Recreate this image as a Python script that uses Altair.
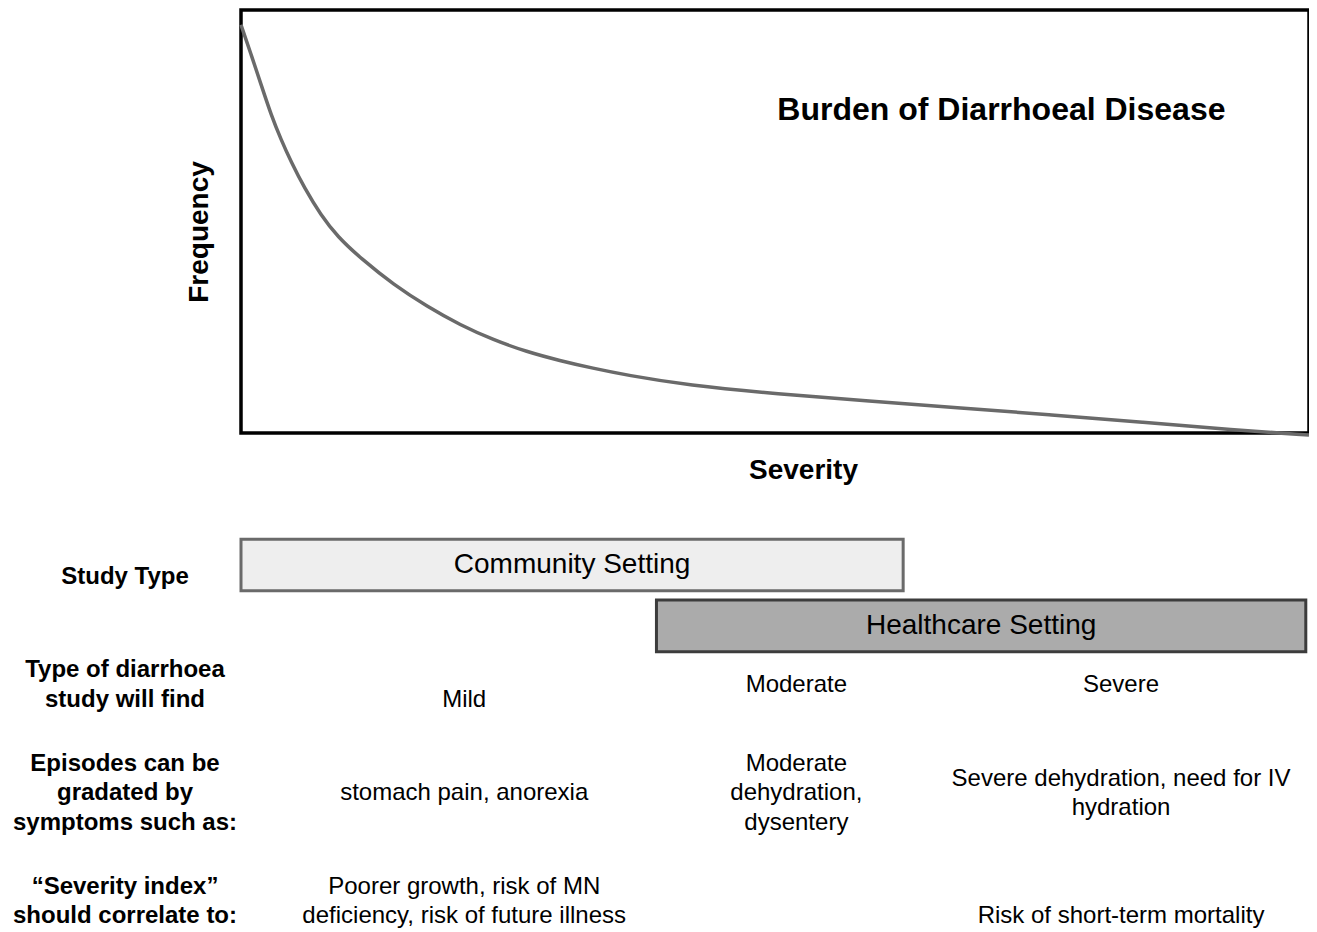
import altair as alt
import pandas as pd

FONT = "Liberation Sans"

# ---- burden curve (severity 0-100, frequency 0-100) ----
severity = [0, 0.96, 1.89, 2.82, 3.76, 4.69, 5.94, 7.48, 9.04, 11.21, 14.32, 17.43,
            20.53, 23.64, 26.75, 29.85, 32.96, 36.07, 41.8, 50.3, 58.8, 67.4, 75.9,
            84.4, 92.9, 100]
frequency = [96.5, 89.4, 82.3, 75.2, 69.3, 64.1, 57.9, 51.5, 46.4, 41.3, 35.0, 29.9,
             25.5, 22.0, 19.2, 17.1, 15.3, 13.7, 11.3, 9.2, 7.6, 5.9, 4.3,
             2.6, 0.7, -0.5]

# ---- study type bands along the severity axis ----
study_types = ["Community Setting", "Healthcare Setting"]
study_start = [0.0, 38.9]
study_end = [62.0, 99.7]
study_lane = [0, 1]
study_fill = ["#eeeeee", "#ababab"]
study_stroke = ["#6a6a6a", "#3c3c3c"]

# ---- table rows ----
row_labels = ["Study Type",
              "Type of diarrhoea\nstudy will find",
              "Episodes can be\ngradated by\nsymptoms such as:",
              "\u201cSeverity index\u201d\nshould correlate to:"]

columns = ["Mild", "Moderate", "Severe"]
column_severity = [20.9, 52.0, 82.4]

cell_row = [1, 1, 1, 2, 2, 2, 3, 3]
cell_col = ["Mild", "Moderate", "Severe", "Mild", "Moderate", "Severe", "Mild", "Severe"]
cell_text = ["\nMild", "Moderate", "Severe",
             "stomach pain, anorexia",
             "Moderate\ndehydration,\ndysentery",
             "Severe dehydration, need for IV\nhydration",
             "Poorer growth, risk of MN\ndeficiency, risk of future illness",
             "\nRisk of short-term mortality"]

title_text = ["Burden of Diarrhoeal Disease"]

# layout constants (in axis units) for the table below the plot
ROW_TOP = -34.0
ROW_STEP = 25.6
LINE_U = 6.974          # one text line (29.5 px) in frequency units
LANE_TOP = -31.2
LANE_STEP = 14.4
LANE_HALF = 6.1
LABEL_X = -10.86

curve_df = pd.DataFrame({"severity": severity, "frequency": frequency})
study_df = pd.DataFrame({"study": study_types, "start": study_start, "end": study_end,
                         "lane": study_lane, "fill": study_fill, "stroke": study_stroke})
rows_df = pd.DataFrame({"label": row_labels, "row": list(range(len(row_labels)))})
col_map = dict(zip(columns, column_severity))
cells_df = pd.DataFrame({"text": cell_text, "row": cell_row,
                         "col": cell_col,
                         "severity": [col_map[c] for c in cell_col]})
title_df = pd.DataFrame({"text": title_text, "severity": [71.2], "frequency": [76.4]})

xscale = alt.Scale(domain=[0, 100], nice=False, zero=False)
yscale = alt.Scale(domain=[0, 100], nice=False, zero=False)
x_axis = alt.Axis(title="Severity", labels=False, ticks=False, domain=False, grid=False,
                  titleFontSize=28, titleFontWeight="bold", titleColor="black",
                  titleFont=FONT, titlePadding=23, titleX=562)
y_axis = alt.Axis(title="Frequency", labels=False, ticks=False, domain=False, grid=False,
                  titleFontSize=28, titleFontWeight="bold", titleColor="black",
                  titleFont=FONT, titlePadding=28, titleY=221.5)


def X(field):
    return alt.X(field, type="quantitative", scale=xscale, axis=x_axis)


def Y(field):
    return alt.Y(field, type="quantitative", scale=yscale, axis=y_axis)


ycenter = (f"{ROW_TOP} - datum.row * {ROW_STEP} + "
           f"(length(split(datum.TXT, '\\n')) - 1) * {LINE_U} / 2")

curve = alt.Chart(curve_df).mark_line(color="#6a6a6a", strokeWidth=3.5,
                                      interpolate="basis").encode(
    x=X("severity"), y=Y("frequency"))

title = alt.Chart(title_df).mark_text(font=FONT, fontSize=32, fontWeight="bold",
                                      color="black", align="center",
                                      baseline="middle").encode(
    x=X("severity"), y=Y("frequency"), text="text:N")

boxes = alt.Chart(study_df).transform_calculate(
    top=f"{LANE_TOP} - datum.lane * {LANE_STEP} + {LANE_HALF}",
    bottom=f"{LANE_TOP} - datum.lane * {LANE_STEP} - {LANE_HALF}",
).mark_rect(strokeWidth=3).encode(
    x=X("start"), x2="end", y=Y("top"), y2="bottom",
    fill=alt.Fill("fill:N", scale=None), stroke=alt.Stroke("stroke:N", scale=None))

box_labels = alt.Chart(study_df).transform_calculate(
    mid="(datum.start + datum.end) / 2",
    yc=f"{LANE_TOP} - datum.lane * {LANE_STEP}",
).mark_text(font=FONT, fontSize=28, color="black", baseline="middle").encode(
    x=X("mid"), y=Y("yc"), text="study:N")

row_text = alt.Chart(rows_df).transform_calculate(
    xc=f"{LABEL_X}",
    yc=ycenter.replace("TXT", "label"),
).mark_text(font=FONT, fontSize=24, fontWeight="bold", color="black",
            lineBreak="\n", lineHeight=29.5, align="center", baseline="middle").encode(
    x=X("xc"), y=Y("yc"), text="label:N")

cell_marks = alt.Chart(cells_df).transform_calculate(
    yc=ycenter.replace("TXT", "text"),
).mark_text(font=FONT, fontSize=24, color="black",
            lineBreak="\n", lineHeight=29.5, align="center", baseline="middle").encode(
    x=X("severity"), y=Y("yc"), text="text:N")

chart = alt.layer(curve, title, boxes, box_labels, row_text, cell_marks).properties(
    width=1068, height=423,
    autosize=alt.AutoSizeParams(type="none"),
    padding={"left": 233, "top": 2, "right": 0, "bottom": 499},
    background="white",
).configure_view(stroke="black", strokeWidth=3.5)

chart.save("out.html", embed_options={"renderer": "svg", "actions": False})
